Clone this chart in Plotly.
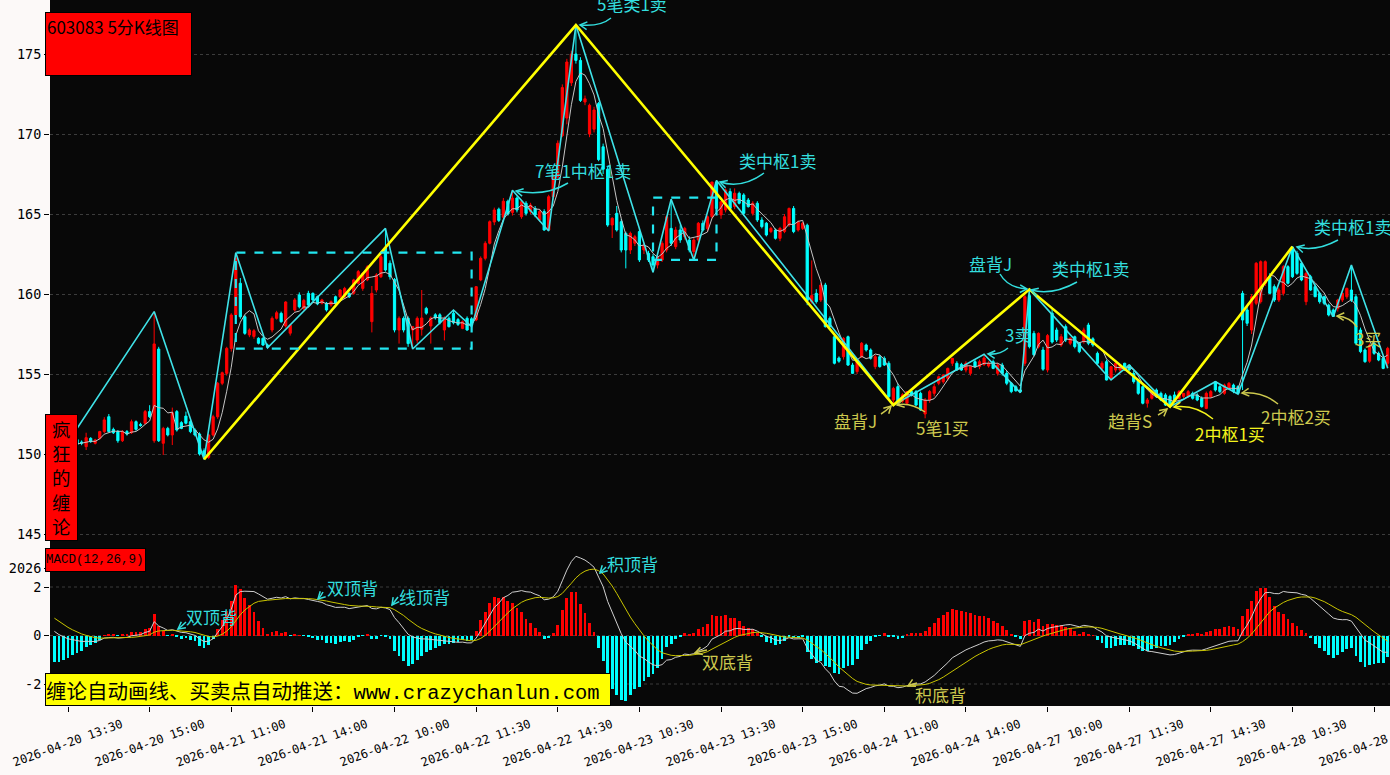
import math
import pandas as pd
import plotly.graph_objects as go

# ---------------- data ----------------
ohlc_rows = """
150.3,150.4,149.45,149.9
149.9,150.6,149.8,150.5
150.5,150.9,150.3,150.7
150.7,150.9,150.4,150.5
150.5,151.0,150.4,150.9
150.9,151.0,150.5,150.6
150.75,150.85,150.55,150.68
150.46,151.33,150.25,151.02
150.98,151.05,150.7,150.77
150.67,150.95,150.6,150.88
150.98,151.45,150.9,151.4
151.4,152.3,151.3,152.13
152.33,152.5,151.35,151.4
151.54,151.65,151.25,151.33
151.4,151.5,150.7,150.83
150.83,151.5,150.75,151.4
151.4,151.5,151.15,151.25
151.33,152.15,151.25,152.02
152.02,152.1,151.45,151.54
151.85,151.95,151.7,151.78
151.92,152.75,151.85,152.65
152.65,153.05,152.25,152.33
150.83,158.9,150.7,156.88
156.56,156.7,150.75,150.83
150.67,151.7,149.94,151.6
151.6,151.7,151.1,151.19
151.19,152.9,150.56,152.58
152.65,152.75,151.4,151.5
151.96,152.05,151.55,151.6
152.37,152.65,151.85,151.92
152.02,152.1,151.3,151.4
151.5,151.6,151.1,151.19
151.25,151.35,149.9,150.0
150.2,150.35,149.67,149.9
149.79,151.25,149.7,151.19
151.19,152.45,151.1,152.33
152.33,154.5,152.2,154.42
154.42,155.15,154.3,155.08
155.04,156.7,154.9,156.6
156.6,158.8,156.4,158.69
158.69,162.58,158.5,162.23
160.67,161.0,158.45,158.58
158.58,158.7,157.45,157.54
157.44,157.85,157.3,157.75
157.35,157.8,157.2,157.7
157.23,157.3,156.85,156.92
157.23,157.3,156.75,156.81
156.81,156.9,156.6,156.67
157.75,158.6,157.6,158.48
158.48,158.95,158.4,158.83
158.79,158.9,158.2,158.27
158.0,159.55,157.9,159.5
157.55,158.1,157.4,158.05
159.0,159.75,158.9,159.63
159.94,160.1,159.1,159.2
159.1,159.7,159.0,159.6
160.04,160.2,159.2,159.31
160.04,160.1,159.55,159.63
159.83,159.9,159.3,159.38
159.42,159.7,159.35,159.63
159.42,159.5,158.9,159.0
159.31,159.6,159.2,159.52
159.83,159.9,159.35,159.42
159.83,160.3,159.75,160.25
159.83,160.45,159.7,160.35
160.04,160.1,159.75,159.83
160.04,160.95,159.95,160.88
160.67,161.5,160.6,161.4
160.35,161.35,160.2,161.29
160.88,161.8,160.8,161.7
158.27,160.5,157.6,160.04
160.25,161.3,160.1,161.19
161.08,162.5,161.0,162.33
162.9,164.1,161.4,161.5
161.92,162.1,160.9,161.08
160.9,161.0,157.6,157.75
157.75,158.6,156.9,158.48
158.48,158.6,157.6,157.75
158.48,158.6,156.7,156.9
157.75,158.0,156.56,157.96
157.12,158.6,156.9,158.48
157.8,160.25,157.4,158.5
159.1,159.2,158.7,158.8
158.0,158.6,156.9,158.5
158.7,158.8,158.4,158.5
158.7,158.8,158.1,158.2
157.75,158.6,157.1,158.48
158.48,158.6,157.9,157.96
158.8,159.0,158.1,158.2
158.4,158.5,158.0,158.1
157.85,158.35,157.8,158.27
158.48,158.6,157.7,157.75
158.45,158.55,157.96,158.05
158.38,160.5,158.3,160.46
160.88,162.35,160.8,162.23
162.23,163.3,162.1,163.17
163.17,164.6,163.1,164.52
164.5,165.4,164.3,165.25
165.3,165.4,164.5,164.6
164.8,166.0,164.7,165.8
165.8,165.9,164.9,165.0
165.1,166.48,164.9,166.0
166.0,166.1,165.1,165.25
164.83,165.9,164.7,165.77
165.67,165.8,164.9,165.04
165.15,165.7,165.0,165.56
165.35,165.5,164.8,164.94
164.63,165.3,164.5,165.15
165.15,165.3,163.95,164.0
164.0,166.2,163.94,166.08
166.08,167.5,165.9,167.33
167.33,169.6,167.2,169.42
169.9,173.1,169.8,172.9
171.0,174.7,170.6,174.5
173.2,175.2,173.0,175.0
175.0,176.81,174.4,174.6
174.6,174.8,172.0,172.1
172.0,172.4,171.8,172.2
170.0,171.9,169.8,171.8
170.3,171.7,170.1,171.5
171.9,172.0,168.3,168.4
169.2,169.4,167.5,167.8
167.8,168.0,164.2,164.31
164.31,164.8,163.5,164.73
165.04,165.5,163.9,164.0
164.52,164.7,162.6,162.75
163.79,163.9,161.6,162.75
162.75,163.9,162.5,163.79
163.17,163.7,163.0,163.58
163.9,164.1,162.0,162.13
162.75,163.2,162.5,163.06
162.54,162.7,162.0,162.13
162.33,162.5,161.36,161.81
161.81,162.4,161.6,162.33
162.13,163.3,162.0,163.17
162.75,164.9,162.6,164.83
164.1,165.92,163.0,163.17
162.96,164.2,162.8,164.0
164.0,164.3,163.2,163.375
163.58,164.2,163.4,164.1
163.375,163.6,162.6,162.75
162.65,163.5,162.13,163.375
163.375,164.5,163.2,164.42
164.42,164.6,163.9,164.0
164.1,164.9,163.9,164.83
164.83,167.0,164.7,167.0
167.0,167.1,165.3,165.35
164.94,165.8,164.7,165.77
165.25,166.6,165.1,166.5
166.4,166.6,165.2,165.35
165.46,166.6,165.3,166.3
166.29,166.4,165.6,165.67
166.19,166.3,164.9,165.04
165.875,166.0,165.4,165.46
165.04,165.8,164.9,165.67
165.67,165.8,164.5,164.625
164.625,164.8,164.1,164.21
164.42,164.5,163.6,163.69
163.9,164.2,163.8,164.1
164.0,164.1,163.4,163.48
163.48,164.2,163.3,164.1
163.9,165.0,163.8,164.83
164.31,165.4,164.2,165.35
165.35,165.5,163.8,163.9
164.0,164.6,163.9,164.5
164.1,164.5,164.0,164.42
164.3,164.4,159.3,159.6
159.5,162.1,159.4,159.9
160.04,160.3,159.4,159.52
159.625,160.7,159.5,160.56
160.56,160.7,157.9,157.96
158.48,158.6,157.9,157.96
157.33,157.5,155.6,155.67
156.0,156.1,155.7,155.8
156.08,157.3,155.9,157.23
157.33,157.4,155.5,155.56
155.56,155.7,155.0,155.04
155.15,155.9,155.0,155.77
156.08,157.0,156.0,156.92
156.81,156.9,156.4,156.5
156.5,156.6,155.9,155.98
155.46,156.2,155.3,156.08
156.08,156.2,155.4,155.46
155.98,156.1,155.5,155.56
155.67,155.8,153.5,153.58
153.375,154.2,153.06,154.1
154.21,154.4,153.1,153.17
153.3,153.8,153.2,153.7
153.17,153.9,153.1,153.9
153.9,154.0,153.6,153.7
153.9,154.0,153.0,153.06
153.79,153.9,152.7,152.75
152.5,153.5,152.23,153.375
153.375,154.0,153.2,153.9
153.79,154.4,153.6,154.21
154.42,154.9,154.3,154.83
154.52,155.0,154.4,154.94
154.73,155.4,154.6,155.35
155.67,156.0,155.5,155.98
155.67,155.8,155.2,155.25
155.6,155.7,155.2,155.25
155.25,155.8,155.1,155.67
155.04,155.5,154.9,155.46
155.77,155.9,155.4,155.46
155.46,155.9,155.3,155.77
155.6,156.23,155.5,156.0
155.5,155.8,155.4,155.67
155.77,155.9,155.3,155.35
155.04,155.7,154.9,155.56
155.56,155.7,154.9,155.04
155.04,155.2,154.3,154.42
154.42,154.5,153.8,153.9
154.2,154.3,153.9,153.95
154.0,154.1,153.83,153.9
155.67,160.0,155.5,159.83
159.9,160.29,156.6,156.71
157.54,157.7,156.1,156.2
156.7,157.6,156.6,157.54
156.5,156.7,155.2,155.3
155.25,157.5,155.1,157.4
158.8,159.1,156.9,157.0
157.75,157.9,157.0,157.125
156.81,157.5,156.7,157.33
157.96,158.1,157.0,157.125
156.92,157.3,156.8,157.23
157.33,157.4,156.6,156.71
156.92,157.0,156.3,156.4
157.02,157.9,156.9,157.75
158.06,158.2,156.8,156.92
157.2,157.3,156.7,156.81
156.29,156.4,155.6,155.67
155.35,155.8,155.2,155.67
155.77,155.9,154.6,154.625
154.73,155.5,154.63,155.46
155.25,155.7,155.1,155.67
155.25,155.6,155.1,155.56
155.67,155.7,155.2,155.25
155.56,155.56,155.2,155.25
155.04,155.2,154.4,154.52
154.625,154.7,153.7,153.79
154.21,154.3,153.1,153.17
153.17,153.5,152.9,153.375
153.48,154.0,153.4,153.9
154.0,154.1,153.5,153.58
153.79,153.9,153.3,153.375
153.69,153.8,153.0,153.06
153.6,153.7,152.96,153.0
153.69,153.9,153.3,153.375
153.48,154.0,153.4,153.9
153.6,153.8,153.5,153.79
153.58,154.0,153.5,153.9
153.79,153.9,153.4,153.48
153.69,153.8,153.3,153.375
153.48,153.6,152.9,152.96
152.85,153.9,152.8,153.79
153.58,154.0,153.5,153.9
154.52,154.52,153.9,154.0
154.21,154.3,153.8,153.9
153.79,154.4,153.7,154.31
154.1,154.5,154.0,154.42
154.31,154.4,153.8,153.9
154.21,154.3,153.75,153.79
160.04,160.2,154.0,158.375
159.0,159.2,158.0,158.17
157.75,160.0,157.5,159.83
159.42,162.0,159.3,161.92
159.52,162.1,159.4,162.02
160.67,162.1,160.5,162.02
161.08,161.3,160.0,160.04
160.46,160.6,159.5,159.625
159.625,160.4,159.5,160.25
160.04,161.8,159.9,161.71
161.71,161.8,160.6,160.67
162.9,162.96,161.0,161.08
162.54,162.7,161.2,161.29
161.92,162.0,160.8,160.875
159.52,161.4,159.3,161.29
161.08,161.2,160.2,160.25
160.46,160.6,159.8,159.83
160.04,160.1,159.4,159.52
159.83,159.9,159.3,159.42
159.3,159.4,158.6,158.69
159.0,159.1,158.58,158.6
159.1,159.7,158.9,159.625
159.625,160.1,159.5,160.04
159.83,160.4,159.7,160.35
160.25,161.81,159.5,159.625
159.83,160.0,156.8,156.92
157.75,157.9,156.3,156.4
156.5,156.6,155.7,155.77
155.8,156.9,155.7,156.8
156.92,157.0,156.2,156.29
156.29,156.4,155.8,155.875
155.98,156.1,155.3,155.35
155.67,156.7,155.36,156.6
"""
_rows = [list(map(float, r.split(","))) for r in ohlc_rows.strip().splitlines()]
opens = [r[0] for r in _rows]
highs = [r[1] for r in _rows]
lows = [r[2] for r in _rows]
closes = [r[3] for r in _rows]
bar_idx = list(range(len(closes)))

# 笔 (strokes) vertices
bi_idx = [0, 22, 33, 40, 47, 73, 79, 88, 92, 101, 109, 115, 132, 136, 141, 146,
          185, 205, 213, 215, 233, 237, 246, 256, 261, 273, 282, 286, 294]
bi_price = [149.45, 158.9, 149.67, 162.58, 156.64, 164.1, 156.56, 159.0, 157.96,
            166.48, 163.94, 176.81, 161.36, 165.92, 162.13, 167.1, 153.06, 156.23,
            153.83, 160.29, 154.63, 155.56, 152.96, 154.52, 153.75, 162.96, 158.58,
            161.81, 155.36]
# 线段 (segments) vertices
seg_idx = [33, 115, 185, 215, 246, 273]
seg_price = [149.67, 176.81, 153.06, 160.29, 152.96, 162.96]
# 中枢 boxes
zs_start = [40, 132]
zs_end = [92, 146]
zs_low = [156.58, 162.13]
zs_high = [162.58, 166.02]

tick_idx = [3 + 18 * k for k in range(17)]
tick_labels = ["2026-04-20 13:30", "2026-04-20 15:00", "2026-04-21 11:00",
               "2026-04-21 14:00", "2026-04-22 10:00", "2026-04-22 11:30",
               "2026-04-22 14:30", "2026-04-23 10:30", "2026-04-23 13:30",
               "2026-04-23 15:00", "2026-04-24 11:00", "2026-04-24 14:00",
               "2026-04-27 10:00", "2026-04-27 11:30", "2026-04-27 14:30",
               "2026-04-28 10:30", "2026-04-28 13:30"]

# MACD state carried in from before the first bar
EMA12_INIT, EMA26_INIT, DEA_INIT = 152.4, 152.0, 0.85

# ---------------- indicators ----------------
ma5 = pd.Series(closes).rolling(5).mean().tolist()
e12, e26, dea = EMA12_INIT, EMA26_INIT, DEA_INIT
dif_l, dea_l, hist_l = [], [], []
for c in closes:
    e12 = (2 * c + 11 * e12) / 13
    e26 = (2 * c + 25 * e26) / 27
    dif = e12 - e26
    dea = (2 * dif + 8 * dea) / 10
    dif_l.append(dif)
    dea_l.append(dea)
    hist_l.append(2 * (dif - dea))

# ---------------- geometry helpers (pixels -> paper) ----------------
W, H = 1390, 775
ML, MR, MT, MB = 50, 0, 0, 69
PW, PH = W - ML - MR, H - MT - MB


def PX(x):
    return (x - ML) / PW


def PY(y):
    return (PH - (y - MT)) / PH


CY = "#33dede"
KH = "#cdc94e"
YB = "#f4f41c"
CJK = "Noto Sans CJK SC"
MONO = "DejaVu Sans Mono"

fig = go.Figure()
fig.add_trace(go.Candlestick(
    x=bar_idx, open=opens, high=highs, low=lows, close=closes,
    increasing=dict(line=dict(color="#ff0000", width=1), fillcolor="#ff0000"),
    decreasing=dict(line=dict(color="#00ffff", width=1), fillcolor="#00ffff"),
    whiskerwidth=0, showlegend=False, xaxis="x", yaxis="y", hoverinfo="skip"))
fig.add_trace(go.Scatter(x=bar_idx, y=ma5, mode="lines",
                         line=dict(color="#c4c4c4", width=1), showlegend=False,
                         xaxis="x", yaxis="y", hoverinfo="skip"))
fig.add_trace(go.Scatter(x=bi_idx, y=bi_price, mode="lines",
                         line=dict(color="#3fe2e8", width=1.6), showlegend=False,
                         xaxis="x", yaxis="y", hoverinfo="skip"))
fig.add_trace(go.Scatter(x=seg_idx, y=seg_price, mode="lines",
                         line=dict(color="#ffff00", width=2.6), showlegend=False,
                         xaxis="x", yaxis="y", hoverinfo="skip"))

fig.add_trace(go.Bar(x=bar_idx, y=hist_l, width=0.62,
                     marker=dict(color=["#ff0000" if v >= 0 else "#00ffff" for v in hist_l],
                                 line=dict(width=0)),
                     showlegend=False, xaxis="x2", yaxis="y2", hoverinfo="skip"))
fig.add_trace(go.Scatter(x=bar_idx, y=dif_l, mode="lines",
                         line=dict(color="#cfcfcf", width=1), showlegend=False,
                         xaxis="x2", yaxis="y2", hoverinfo="skip"))
fig.add_trace(go.Scatter(x=bar_idx, y=dea_l, mode="lines",
                         line=dict(color="#c8c400", width=1), showlegend=False,
                         xaxis="x2", yaxis="y2", hoverinfo="skip"))

shapes = []
for a, b, lo, hi in zip(zs_start, zs_end, zs_low, zs_high):
    shapes.append(dict(type="rect", xref="x", yref="y", x0=a, x1=b, y0=lo, y1=hi,
                       line=dict(color="#22e6f0", width=2.2, dash="dash"),
                       fillcolor="rgba(0,0,0,0)", layer="above"))
for v in (-2, 0, 2):
    shapes.append(dict(type="line", xref="paper", yref="y2", x0=0, x1=1, y0=v, y1=v,
                       line=dict(color="#3a3a3a", width=1, dash="dot"), layer="below"))


def curved_arrow(p0, c, p1, color):
    path = "M {},{} Q {},{} {},{}".format(PX(p0[0]), PY(p0[1]), PX(c[0]), PY(c[1]),
                                          PX(p1[0]), PY(p1[1]))
    shapes.append(dict(type="path", xref="paper", yref="paper", path=path,
                       line=dict(color=color, width=1.5), layer="above"))
    dx, dy = p1[0] - c[0], p1[1] - c[1]
    L = math.hypot(dx, dy) or 1.0
    ux, uy = -dx / L, -dy / L
    pts = []
    for ang in (0.5, -0.5):
        rx = ux * math.cos(ang) - uy * math.sin(ang)
        ry = ux * math.sin(ang) + uy * math.cos(ang)
        pts.append((p1[0] + 8 * rx, p1[1] + 8 * ry))
    hp = "M {},{} L {},{} L {},{}".format(PX(pts[0][0]), PY(pts[0][1]), PX(p1[0]),
                                           PY(p1[1]), PX(pts[1][0]), PY(pts[1][1]))
    shapes.append(dict(type="path", xref="paper", yref="paper", path=hp,
                       line=dict(color=color, width=1.5), layer="above"))


arrows = [
    ((611, 18), (600, 27), (580, 25), CY),
    ((568, 183), (545, 197), (516, 191), CY),
    ((764, 173), (742, 189), (720, 182), CY),
    ((1000, 274), (1008, 288), (1027, 289), CY),
    ((1077, 282), (1052, 296), (1031, 290), CY),
    ((1008, 348), (1000, 355), (988, 354), CY),
    ((1338, 240), (1316, 252), (1297, 247), CY),
    ((881, 414), (886, 411), (891, 406), KH),
    ((925, 412), (910, 402), (897, 405), KH),
    ((1158, 415), (1162, 413), (1167, 409), KH),
    ((1213, 419), (1195, 404), (1174, 407), YB),
    ((1278, 404), (1262, 391), (1242, 393), KH),
    ((1357, 327), (1350, 317), (1337, 316), KH),
    ((186, 622), (182, 626), (178, 629), CY),
    ((323, 592), (321, 596), (318, 599), CY),
    ((398, 597), (395, 601), (392, 605), CY),
    ((606, 567), (603, 570), (600, 573), CY),
    ((707, 650), (701, 651), (695, 653), KH),
    ((917, 683), (912, 684), (908, 686), KH),
]
for p0, c, p1, col in arrows:
    curved_arrow(p0, c, p1, col)

notes = [
    ("5笔类1卖", 632, 4, CY), ("7笔1中枢1卖", 583, 170, CY), ("类中枢1卖", 778, 160, CY),
    ("盘背J", 990, 263, CY), ("类中枢1卖", 1090, 268, CY), ("3卖", 1018, 334, CY),
    ("类中枢1卖", 1352, 227, CY), ("盘背J", 855, 420, KH), ("5笔1买", 942, 427, KH),
    ("趋背S", 1130, 421, KH), ("2中枢1买", 1230, 433, YB), ("2中枢2买", 1296, 416, KH),
    ("3买", 1368, 338, KH), ("双顶背", 211, 616, CY), ("双顶背", 352, 587, CY),
    ("线顶背", 424, 596, CY), ("积顶背", 632, 563, CY), ("双底背", 728, 661, KH),
    ("积底背", 941, 694, KH),
]
ann = []
for t, x, y, col in notes:
    ann.append(dict(text=t, x=PX(x), y=PY(y), xref="paper", yref="paper", showarrow=False,
                    xanchor="center", yanchor="middle",
                    font=dict(family=CJK, size=17, color=col)))

for v, lab in zip(tick_idx, tick_labels):
    ann.append(dict(text=lab, x=v, y=PY(743), xref="x2", yref="paper", showarrow=False,
                    xanchor="center", yanchor="middle", textangle=-20,
                    font=dict(family=MONO, size=12, color="#000000")))

# label boxes
ann.append(dict(text="603083 5分K线图", x=PX(45), y=PY(12), xref="paper", yref="paper",
                showarrow=False, xanchor="left", yanchor="top", align="left", valign="top",
                width=143, height=60, bgcolor="#ff0000", bordercolor="#000000",
                borderwidth=1, borderpad=1,
                font=dict(family=CJK, size=17, color="#000000")))
ann.append(dict(text="疯<br>狂<br>的<br>缠<br>论", x=PX(45), y=PY(414), xref="paper",
                yref="paper", showarrow=False, xanchor="left", yanchor="top",
                align="center", valign="middle", width=31, height=125,
                bgcolor="#ff0000", bordercolor="#000000", borderwidth=1, borderpad=0,
                font=dict(family=CJK, size=18.5, color="#000000")))
ann.append(dict(text="MACD(12,26,9)", x=PX(45), y=PY(548), xref="paper", yref="paper",
                showarrow=False, xanchor="left", yanchor="top", align="left",
                valign="middle", width=99, height=22, bgcolor="#ff0000",
                bordercolor="#000000", borderwidth=1, borderpad=0,
                font=dict(family="Liberation Mono", size=12.5, color="#000000")))
ann.append(dict(text="缠论自动画线、买卖点自动推送：<span style=\"font-family:'Liberation Mono'\">www.crazychanlun.com</span>",
                x=PX(45), y=PY(673), xref="paper", yref="paper", showarrow=False,
                xanchor="left", yanchor="top", align="left", valign="middle",
                width=564, height=31, bgcolor="#ffff00", bordercolor="#000000",
                borderwidth=1, borderpad=0,
                font=dict(family=CJK, size=20.5, color="#000000")))

upper_bottom = 552
fig.update_layout(
    width=W, height=H, margin=dict(l=ML, r=MR, t=MT, b=MB),
    paper_bgcolor="#fcf9f8", plot_bgcolor="#080808",
    showlegend=False, bargap=0, shapes=shapes, annotations=ann,
    xaxis=dict(domain=[0, 1], range=[-0.97, 294.51], anchor="y", showticklabels=False,
               ticks="", showgrid=False, zeroline=False, rangeslider=dict(visible=False),
               showline=False),
    yaxis=dict(domain=[PY(upper_bottom), 1], range=[175 - (upper_bottom - 54) / 16, 178.375],
               tickvals=[145, 150, 155, 160, 165, 170, 175], ticks="outside", ticklen=5,
               tickcolor="#000000", tickfont=dict(family=MONO, size=13.5, color="#000000"),
               showgrid=True, gridcolor="#3c3c3c", griddash="dot", gridwidth=1,
               zeroline=False, showline=False),
    xaxis2=dict(domain=[0, 1], range=[-0.97, 294.51], anchor="y2", tickvals=tick_idx,
                showticklabels=False, ticks="outside", ticklen=5, tickcolor="#000000",
                showgrid=False, zeroline=False, showline=False),
    yaxis2=dict(domain=[0, PY(upper_bottom)], range=[-(706 - 635.5) / 24.25, (635.5 - upper_bottom) / 24.25],
                tickvals=[-2, 0, 2, 2.78], ticktext=["-2", "0", "2", "2026"],
                ticks="outside", ticklen=5, tickcolor="#000000",
                tickfont=dict(family=MONO, size=13.5, color="#000000"),
                showgrid=False, zeroline=False, showline=False),
)

fig.write_html("out.html", config={"displayModeBar": False},
               post_script="document.body.style.margin='0';document.body.style.overflow='hidden';")
